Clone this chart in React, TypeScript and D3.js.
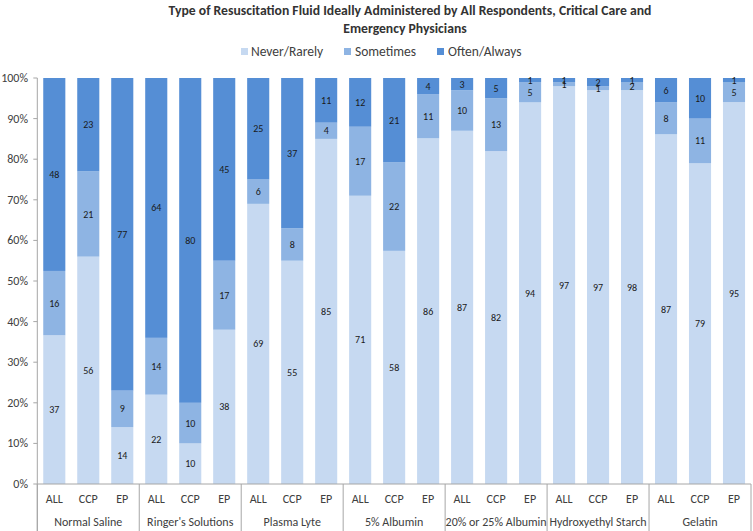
import React from "react";
import * as d3 from "d3";

const groups = ["Normal Saline", "Ringer's Solutions", "Plasma Lyte", "5% Albumin", "20% or 25% Albumin", "Hydroxyethyl Starch", "Gelatin"];
const subgroups = ["ALL", "CCP", "EP"];
const seriesNames = ["Never/Rarely", "Sometimes", "Often/Always"];
const neverRarely = [37, 56, 14, 22, 10, 38, 69, 55, 85, 71, 58, 86, 87, 82, 94, 97, 97, 98, 87, 79, 95];
const sometimes = [16, 21, 9, 14, 10, 17, 6, 8, 4, 17, 22, 11, 10, 13, 5, 1, 1, 2, 8, 11, 5];
const oftenAlways = [48, 23, 77, 64, 80, 45, 25, 37, 11, 12, 21, 4, 3, 5, 1, 1, 2, 1, 6, 10, 1];
const yTicks = [0, 0.1, 0.2, 0.3, 0.4, 0.5, 0.6, 0.7, 0.8, 0.9, 1];
const colors = ["#c6d9f1", "#8eb4e3", "#558ed5"];

const W = 753, H = 531;
const FONT = "Carlito, Calibri, 'Liberation Sans Narrow', 'Open Sans', sans-serif";

export default function App() {
  const n = neverRarely.length;
  const rows = d3.range(n).map((i) => ({
    i,
    "Never/Rarely": neverRarely[i],
    Sometimes: sometimes[i],
    "Often/Always": oftenAlways[i],
  }));
  const stack = d3.stack<any>().keys(seriesNames).offset(d3.stackOffsetExpand);
  const layers = stack(rows);
  const left = 37.3, right = 751, top = 78, bottom = 484;
  const x = d3.scaleBand<number>().domain(d3.range(n)).range([left, right]).paddingInner(0.35).paddingOuter(0.175);
  const y = d3.scaleLinear().domain([0, 1]).range([bottom, top]);
  const step = x.step();
  const groupX = (g: number) => left + g * 3 * step;

  const legendItems = [
    { name: seriesNames[0], sx: 241, tx: 251 },
    { name: seriesNames[1], sx: 344, tx: 355 },
    { name: seriesNames[2], sx: 437, tx: 448 },
  ];

  return (
    <svg width={W} height={H} style={{ position: "absolute", left: 0, top: 0, background: "#fff" }} fontFamily={FONT}>
      <text x={410} y={15} textAnchor="middle" fontSize={13.7} fontWeight="bold" fill="#333333">
        Type of Resuscitation Fluid Ideally Administered by All Respondents, Critical Care and
      </text>
      <text x={405} y={32.5} textAnchor="middle" fontSize={13.7} fontWeight="bold" fill="#333333">
        Emergency Physicians
      </text>
      {legendItems.map((l, k) => (
        <g key={l.name}>
          <rect x={l.sx} y={48} width={7} height={7} fill={colors[k]} />
          <text x={l.tx} y={56} fontSize={13.5} fill="#404040">{l.name}</text>
        </g>
      ))}
      {layers.map((layer, k) => (
        <g key={layer.key}>
          {layer.map((d, i) => (
            <rect key={i} x={x(i)} y={y(d[1])} width={x.bandwidth()} height={y(d[0]) - y(d[1])} fill={colors[k]} />
          ))}
        </g>
      ))}
      {layers.map((layer, k) => (
        <g key={"l" + layer.key}>
          {layer.map((d, i) => {
            const v = (d.data as any)[layer.key];
            if (!v) return null;
            return (
              <text key={i} x={(x(i) as number) + x.bandwidth() / 2} y={y((d[0] + d[1]) / 2) + 3.5} textAnchor="middle" fontSize={10} fill="#1a1a1a">
                {v}
              </text>
            );
          })}
        </g>
      ))}
      <line x1={left} x2={left} y1={top} y2={H} stroke="#a6a6a6" />
      <line x1={left} x2={right} y1={bottom} y2={bottom} stroke="#a6a6a6" />
      {yTicks.map((t) => (
        <g key={t}>
          <line x1={left - 4} x2={left} y1={y(t)} y2={y(t)} stroke="#a6a6a6" />
          <text x={28} y={y(t) + 4} textAnchor="end" fontSize={12} fill="#404040">{d3.format(".0%")(t)}</text>
        </g>
      ))}
      {d3.range(groups.length + 1).map((g) => (
        <line key={"s" + g} x1={groupX(g)} x2={groupX(g)} y1={bottom} y2={H} stroke="#a6a6a6" />
      ))}
      {d3.range(n).map((i) => (
        <text key={"t" + i} x={(x(i) as number) + x.bandwidth() / 2} y={503} textAnchor="middle" fontSize={12} fill="#404040">
          {subgroups[i % 3]}
        </text>
      ))}
      {groups.map((g, k) => (
        <text key={g} x={groupX(k) + 1.5 * step} y={526} textAnchor="middle" fontSize={12} fill="#404040">{g}</text>
      ))}
    </svg>
  );
}
